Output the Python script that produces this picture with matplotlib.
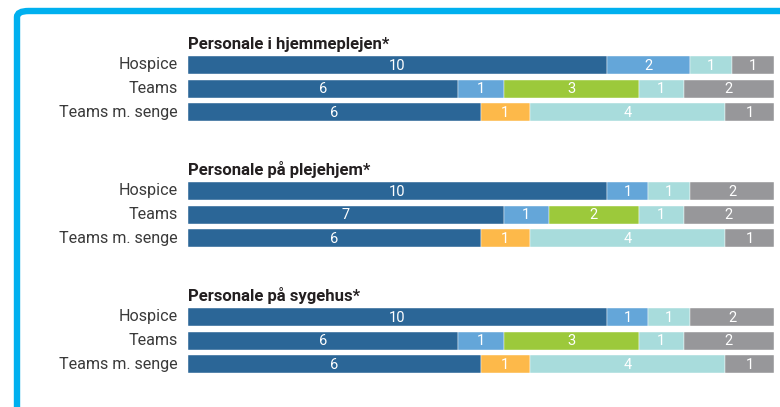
import matplotlib.pyplot as plt
from matplotlib.patches import FancyBboxPatch

plt.rcParams["font.family"] = ["Roboto", "DejaVu Sans"]

# data
group_titles = ["Personale i hjemmeplejen*", "Personale på plejehjem*", "Personale på sygehus*"]
row_labels = ["Hospice", "Teams", "Teams m. senge"]

# each row: list of (category, count)
hjemmepleje = [
    [("dark", 10), ("light", 2), ("cyan", 1), ("gray", 1)],
    [("dark", 6), ("light", 1), ("green", 3), ("cyan", 1), ("gray", 2)],
    [("dark", 6), ("orange", 1), ("cyan", 4), ("gray", 1)],
]
plejehjem = [
    [("dark", 10), ("light", 1), ("cyan", 1), ("gray", 2)],
    [("dark", 7), ("light", 1), ("green", 2), ("cyan", 1), ("gray", 2)],
    [("dark", 6), ("orange", 1), ("cyan", 4), ("gray", 1)],
]
sygehus = [
    [("dark", 10), ("light", 1), ("cyan", 1), ("gray", 2)],
    [("dark", 6), ("light", 1), ("green", 3), ("cyan", 1), ("gray", 2)],
    [("dark", 6), ("orange", 1), ("cyan", 4), ("gray", 1)],
]
groups = [hjemmepleje, plejehjem, sygehus]

colors = {
    "dark": "#2b6697",
    "light": "#64a6d9",
    "green": "#9cc93b",
    "cyan": "#a8dcdc",
    "gray": "#97979a",
    "orange": "#fdb94a",
}

W, H = 780, 407
fig = plt.figure(figsize=(W / 100, H / 100), dpi=100)

# cyan frame with rounded top-left corner
frame = FancyBboxPatch(
    (17 / W, -0.2), 1.2, (1 - 11 / H) + 0.2,
    boxstyle="round,pad=0,rounding_size=0.015",
    transform=fig.transFigure, facecolor="none",
    edgecolor="#00b0ef", linewidth=4.6, clip_on=False,
)
fig.patches.append(frame)

ax = fig.add_axes([188 / W, 0, 586 / W, 1])
ax.set_xlim(0, 1)
ax.set_ylim(H, 0)
ax.axis("off")

bar_h = 18
for g, rows in enumerate(groups):
    top = 56 + 126 * g
    ax.text(0, top - 12, group_titles[g], fontsize=12, fontweight="bold",
            color="#231f20", va="center", ha="left")
    for r, segs in enumerate(rows):
        yc = top + bar_h / 2 + 23.6 * r
        total = sum(v for _, v in segs)
        left = 0
        for cat, v in segs:
            w = v / total
            ax.barh(yc, w, left=left, height=bar_h, color=colors[cat],
                    edgecolor="white", linewidth=0.3)
            ax.text(left + w / 2, yc + 0.5, str(v), color="white", fontsize=10.5,
                    ha="center", va="center")
            left += w
        ax.text(-0.017, yc, row_labels[r], fontsize=11.6, color="#3a3a3a",
                ha="right", va="center", clip_on=False)

fig.savefig("out.png", dpi=100)
